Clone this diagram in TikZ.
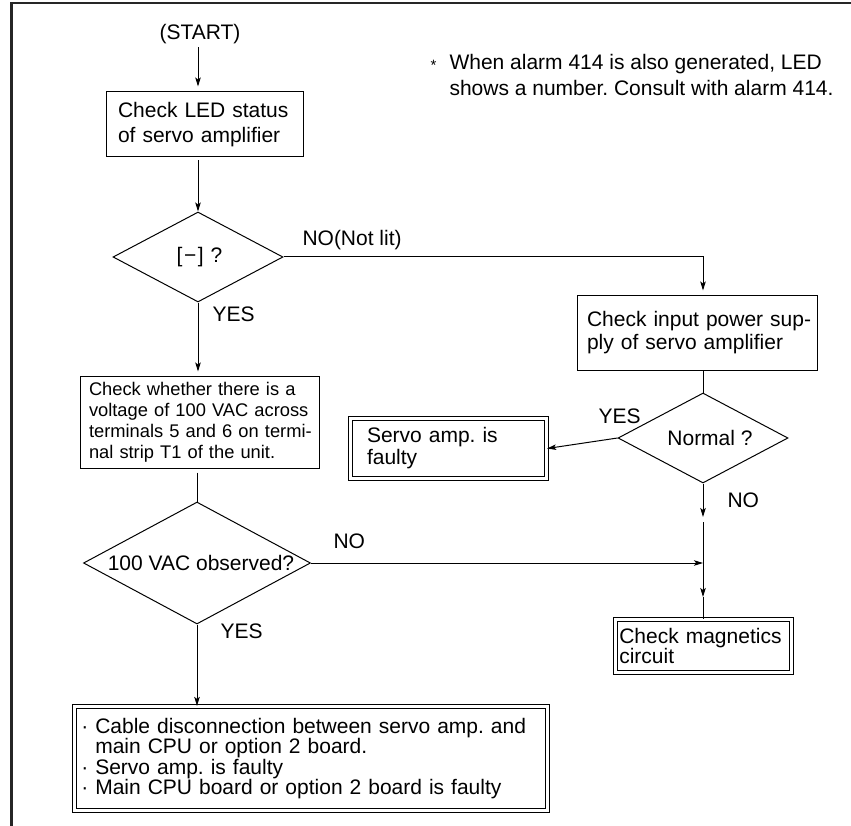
\documentclass[tikz,border=0pt]{standalone}
\usepackage{fontspec}
\setmainfont{Liberation Sans}
\usetikzlibrary{shapes.geometric,arrows.meta}
\frenchspacing
\newcommand{\fsa}{\fontsize{21}{25}\selectfont}
\newcommand{\fsb}{\fontsize{21}{23}\selectfont}
\newcommand{\fsc}{\fontsize{21}{22}\selectfont}
\newcommand{\fsd}{\fontsize{21}{20}\selectfont}
\newcommand{\fse}{\fontsize{18.3}{21}\selectfont}
\newcommand{\fsf}{\fontsize{21}{20.5}\selectfont}
\newcommand{\fsn}{\fontsize{21}{26}\selectfont}
\newcommand{\tline}[1]{\mbox{#1}}
\begin{document}
\begin{tikzpicture}[x={(1pt,0)},y={(0,-1pt)},
  line width=1pt,
  arr/.style={-{Stealth[length=9pt,width=5.5pt,inset=2pt]}},
  pbox/.style={draw, rectangle, align=left, inner ysep=0pt},
  dbox/.style={draw, rectangle, double, double distance=3pt, line width=0.8pt, align=left, inner ysep=0pt},
  dia/.style={draw, diamond, inner sep=0pt},
  lab/.style={anchor=base west, inner sep=0pt, font=\fsa},
]
\useasboundingbox (0,0) rectangle (851,826);
% frame
\draw[line width=2.4pt, black!85] (851,3) -- (11.5,3) -- (11.5,826);

% note
\node[anchor=west, align=left, inner sep=0pt, font=\fsn] (note) at (449,75)
  {\llap{\raisebox{-1pt}{\fontsize{15}{15}\selectfont *}\hspace{13pt}}\tline{When alarm 414 is also generated, LED}\\\tline{shows a number. Consult with alarm 414.}};

% nodes
\node[font=\fsa, inner sep=3pt] (start) at (200,34) {(START)};
\node[pbox, font=\fsa, text width=173pt, inner xsep=12pt, minimum height=65pt] (b1) at (204.5,124.5)
  {\tline{Check LED status}\\\tline{of servo amplifier}};
\node[dia, minimum width=170pt, minimum height=90pt, font=\fsa] (d1) at (198,257)
  {\makebox[0pt]{\hspace*{3pt}[\kern1.5pt−\kern1.5pt]\kern7pt?}};
\node[pbox, font=\fsb, text width=220pt, inner xsep=10pt, minimum height=75pt] (b2) at (697,332.5)
  {\tline{Check input power sup-}\\\tline{ply of servo amplifier}};
\node[dia, minimum width=170pt, minimum height=90pt, font=\fsa] (d2) at (703,438)
  {\makebox[0pt]{\hspace*{14pt}Normal ?}};
\node[dbox, font=\fsc, text width=163pt, inner xsep=16.7pt, minimum height=60.4pt] (b3) at (448.5,448.5)
  {\tline{Servo amp. is}\\\tline{faulty}};
\node[pbox, font=\fse, text width=221pt, inner xsep=9pt, minimum height=92pt] (b5) at (199.5,422)
  {\tline{Check whether there is a}\\\tline{voltage of 100 VAC across}\\\tline{terminals 5 and 6 on termi-}\\\tline{nal strip T1 of the unit.}};
\node[dia, minimum width=227pt, minimum height=122pt, font=\fsa] (d3) at (197,563)
  {\makebox[0pt]{\hspace*{8pt}100 VAC observed?}};
\node[dbox, font=\fsd, text width=168.4pt, inner xsep=4pt, minimum height=53.4pt] (b4) at (703.5,646)
  {\tline{Check magnetics}\\\tline{circuit}};
\node[dbox, font=\fsf, text width=459.4pt, inner xsep=7pt, minimum height=104.4pt] (b6) at (311,758.5)
  {\tline{· Cable disconnection between servo amp. and}\\\tline{\phantom{· }main CPU or option 2 board.}\\\tline{· Servo amp. is faulty}\\\tline{· Main CPU board or option 2 board is faulty}};

% labels
\node[lab] (lno1) at (302,245.5) {NO(Not lit)};
\node[lab] (lyes1) at (212,321.5) {YES};
\node[lab] (lyes2) at (598,423.5) {YES};
\node[lab] (lno2) at (727,507.5) {NO};
\node[lab] (lno3) at (333,548.5) {NO};
\node[lab] (lyes3) at (220,638.5) {YES};

% coordinates
\coordinate (n1) at (703,517);
\coordinate (n2) at (703,522);
\coordinate (j) at (703,563);
\coordinate (m) at (703,597);

% connectors
\draw[arr, shorten >=5pt] (start.south -| d1) -- (b1.north -| d1);
\draw[arr, shorten <=3pt] (b1.south -| d1) -- (d1.north);
\draw[arr, shorten >=4pt] (d1.east) -| (d2 |- b2.north);
\draw (b2.south -| d2) -- (d2.north);
\draw[arr] (d2.west) -- (b3.east);
\draw[arr] (d2.south) -- (n1);
\draw (n2) -- (j);
\draw[arr, shorten >=4pt] (d1.south) -- (b5.north -| d1);
\draw[shorten <=4pt] (b5.south -| d3) -- (d3.north);
\draw[arr] (d3.east) -- (j);
\draw[arr] (j) -- (m);
\draw (m) -- (b4.north -| j);
\draw[arr] (d3.south) -- (b6.north -| d3);
\end{tikzpicture}
\end{document}
